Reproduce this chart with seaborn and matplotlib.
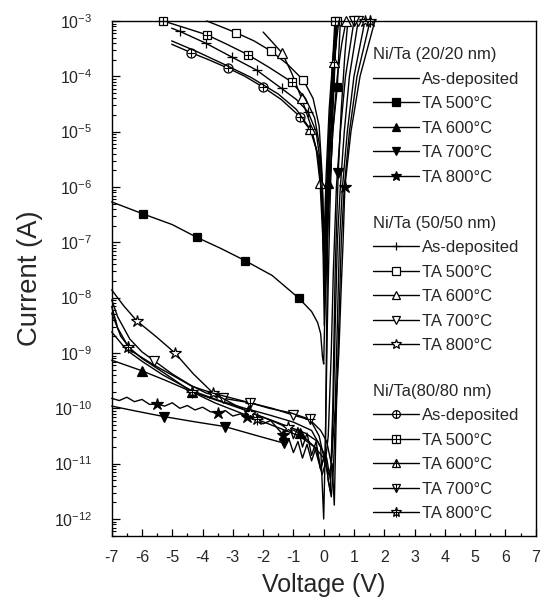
import numpy as np
import matplotlib
matplotlib.use("Agg")
import matplotlib.pyplot as plt
import seaborn as sns
from matplotlib.lines import Line2D
from matplotlib.legend_handler import HandlerTuple
from matplotlib.ticker import FixedLocator, LogLocator, MultipleLocator

# I-V data: voltage (V) and log10 of current (A)
# mk_* are the voltages where a marker symbol sits on the curve

# Ni/Ta (20/20 nm)
v_20_asdep = [-7, -6.5, -6.0, -5.3, -4.36, -3.5, -2.6, -1.8, -1.0, -0.4, -0.1, 0.0, 0.06, 0.12, 0.2, 0.28, 0.36, 0.42]
lg_20_asdep = [-8.62, -8.95, -9.15, -9.4, -9.68, -9.85, -10.0, -10.12, -10.25, -10.4, -10.7, -12.0, -10.5, -8.5, -6.5, -5.0, -3.9, -3.0]
mk_20_asdep = []

v_20_500 = [-7, -5.95, -5.0, -4.19, -3.4, -2.6, -1.7, -0.82, -0.4, -0.2, -0.1, -0.04, 0.0, 0.05, 0.15, 0.3, 0.45, 0.55]
lg_20_500 = [-6.27, -6.49, -6.68, -6.91, -7.11, -7.33, -7.6, -8.01, -8.25, -8.45, -8.65, -9.07, -9.2, -8.0, -6.5, -5.0, -4.19, -3.0]
mk_20_500 = [-5.95, -4.19, -2.6, -0.82, 0.45]

v_20_600 = [-7, -6.01, -5.2, -4.36, -3.4, -2.5, -1.6, -0.78, -0.3, -0.05, 0.05, 0.1, 0.15, 0.25, 0.35, 0.45]
lg_20_600 = [-9.13, -9.32, -9.5, -9.70, -9.88, -10.05, -10.25, -10.45, -10.7, -11.2, -11.0, -8.5, -5.92, -4.8, -3.8, -3.0]
mk_20_600 = [-6.01, -4.36, -2.5, -0.78, 0.15]

v_20_700 = [-7, -6.2, -5.27, -4.3, -3.26, -2.3, -1.31, -1.15, -1.0, -0.85, -0.7, -0.55, -0.4, -0.25, -0.1,
            0.05, 0.15, 0.22, 0.3, 0.38, 0.48, 0.58, 0.7, 0.8]
lg_20_700 = [-9.96, -10.05, -10.15, -10.24, -10.33, -10.48, -10.63, -10.55, -10.8, -10.6, -10.9, -10.65, -10.95, -10.7, -11.1,
             -10.8, -11.3, -11.5, -10.0, -7.5, -5.74, -4.6, -3.6, -3.0]
mk_20_700 = [-5.27, -3.26, -1.31, 0.48]

v_20_800 = [-7.0, -6.75, -6.5, -6.25, -6.0, -5.75, -5.51, -5.25, -5.0, -4.75, -4.5, -4.25, -4.0, -3.75, -3.48,
            -3.25, -3.0, -2.75, -2.54, -2.25, -2.0, -1.75, -1.5, -1.33, -1.15, -1.0, -0.85, -0.7, -0.55, -0.4,
            -0.25, -0.1, 0.05, 0.15, 0.25, 0.32, 0.4, 0.5, 0.58, 0.64, 0.7, 0.9, 1.2, 1.69]
lg_20_800 = [-9.82, -9.86, -9.80, -9.88, -9.84, -9.93, -9.92, -9.96, -9.90, -10.0, -9.95, -10.03, -9.98, -10.06, -10.09,
             -10.04, -10.14, -10.10, -10.16, -10.2, -10.28, -10.22, -10.38, -10.48, -10.3, -10.55, -10.35, -10.7, -10.45, -10.85,
             -10.6, -11.1, -10.8, -11.3, -11.6, -11.1, -10.0, -9.0, -7.8, -7.0, -6.0, -5.0, -4.0, -3.0]
mk_20_800 = [-5.51, -3.48, -2.54, -1.33, 0.7]

# Ni/Ta (50/50 nm)
v_50_asdep = [-5.02, -4.74, -3.9, -3.04, -2.21, -1.39, -0.9, -0.52, -0.25, -0.1, -0.02, 0.03, 0.1, 0.2, 0.3, 0.4]
lg_50_asdep = [-3.13, -3.19, -3.40, -3.65, -3.89, -4.22, -4.42, -4.64, -5.0, -5.6, -6.8, -8.0, -6.5, -5.0, -3.9, -3.0]
mk_50_asdep = [-4.74, -3.9, -3.04, -2.21, -1.39, -0.52]

v_50_500 = [-3.86, -2.9, -2.3, -1.75, -1.2, -0.67, -0.35, -0.15, -0.05, 0.01, 0.08, 0.18, 0.3, 0.43]
lg_50_500 = [-3.0, -3.21, -3.36, -3.54, -3.78, -4.07, -4.4, -4.9, -5.8, -7.0, -5.8, -4.6, -3.7, -3.0]
mk_50_500 = [-2.9, -1.75, -0.67, 0.43]

v_50_600 = [-2.0, -1.7, -1.37, -1.05, -0.73, -0.45, -0.25, -0.12, -0.04, 0.05, 0.15, 0.3, 0.45, 0.6, 0.74]
lg_50_600 = [-3.2, -3.38, -3.58, -3.95, -4.40, -4.85, -5.3, -5.92, -6.8, -7.8, -6.5, -5.0, -4.0, -3.4, -3.0]
mk_50_600 = [-1.37, -0.73, -0.12, 0.74]

v_50_700 = [-7, -6.8, -6.4, -6.0, -5.6, -5.0, -4.4, -3.9, -3.31, -2.43, -1.7, -1.02, -0.45, -0.1, 0.1, 0.25,
            0.32, 0.38, 0.45, 0.55, 0.68, 0.85, 1.14]
lg_50_700 = [-8.04, -8.35, -8.75, -8.98, -9.14, -9.38, -9.58, -9.72, -9.82, -9.9, -10.0, -10.12, -10.21, -10.4, -10.6, -11.0,
             -10.0, -8.5, -7.0, -6.0, -5.0, -4.0, -3.0]
mk_50_700 = [-5.6, -3.31, -1.02, 1.14]

v_50_800 = [-7, -6.6, -6.17, -5.5, -4.91, -4.3, -3.66, -3.0, -2.43, -1.8, -1.17, -0.6, -0.2, 0.1, 0.22, 0.3,
            0.38, 0.45, 0.52, 0.62, 0.78, 1.0, 1.36]
lg_50_800 = [-7.86, -8.15, -8.42, -8.72, -9.0, -9.38, -9.72, -9.92, -10.08, -10.2, -10.33, -10.45, -10.6, -10.9, -11.3, -10.6,
             -10.0, -8.5, -7.0, -6.0, -5.0, -4.0, -3.0]
mk_50_800 = [-6.17, -4.91, -3.66, -2.43, -1.17, 1.36]

# Ni/Ta (80/80 nm)
v_80_asdep = [-5.02, -4.39, -3.8, -3.17, -2.6, -1.99, -1.4, -0.78, -0.4, -0.15, -0.04, 0.02, 0.1, 0.2, 0.32, 0.45]
lg_80_asdep = [-3.42, -3.57, -3.7, -3.85, -4.0, -4.2, -4.42, -4.73, -5.0, -5.5, -6.5, -8.5, -7.0, -5.5, -4.2, -3.0]
mk_80_asdep = [-4.39, -3.17, -1.99, -0.78]

v_80_500 = [-5.3, -4.6, -3.86, -3.2, -2.5, -1.8, -1.06, -0.6, -0.3, -0.12, -0.03, 0.02, 0.08, 0.15, 0.25, 0.37]
lg_80_500 = [-3.0, -3.12, -3.25, -3.42, -3.61, -3.84, -4.1, -4.4, -4.75, -5.3, -6.2, -7.5, -6.5, -5.3, -4.2, -3.0]
mk_80_500 = [-5.3, -3.86, -2.5, -1.06, 0.37]

v_80_600 = [-5.02, -4.2, -3.3, -2.4, -1.5, -0.9, -0.45, -0.2, -0.06, 0.02, 0.1, 0.2, 0.34, 0.5]
lg_80_600 = [-3.36, -3.55, -3.78, -4.02, -4.32, -4.6, -4.95, -5.4, -6.2, -7.2, -6.0, -4.8, -3.74, -3.0]
mk_80_600 = [-0.45, 0.34]

v_80_700 = [-7, -6.7, -6.3, -5.6, -5.0, -4.36, -3.7, -3.0, -2.43, -1.8, -1.1, -0.45, -0.15, 0.05, 0.15, 0.25,
            0.32, 0.42, 0.55, 0.72, 1.0]
lg_80_700 = [-8.28, -8.7, -8.98, -9.22, -9.4, -9.6, -9.72, -9.82, -9.9, -10.0, -10.08, -10.2, -10.5, -11.0, -10.5, -9.0,
             -7.5, -6.0, -5.0, -4.0, -3.0]
mk_80_700 = [-2.43, -0.45, 1.0]

v_80_800 = [-7, -6.8, -6.45, -6.0, -5.3, -4.36, -3.6, -2.9, -2.2, -1.5, -0.8, -0.3, 0.0, 0.15, 0.28, 0.35,
            0.42, 0.5, 0.58, 0.68, 0.85, 1.1, 1.53]
lg_80_800 = [-8.16, -8.55, -8.89, -9.1, -9.35, -9.7, -9.9, -10.05, -10.2, -10.35, -10.5, -10.7, -10.9, -11.2, -11.0, -11.75,
             -10.0, -8.5, -7.0, -6.0, -5.0, -4.0, -3.0]
mk_80_800 = [-6.45, -4.36, -2.2, 1.53]

labels = ["As-deposited", "TA 500°C", "TA 600°C", "TA 700°C", "TA 800°C"]
headers = ["Ni/Ta (20/20 nm)", "Ni/Ta (50/50 nm)", "Ni/Ta(80/80 nm)"]

# (voltages, log currents, marker voltages, marker, filled, crossed)
groups = [
    [(v_20_asdep, lg_20_asdep, mk_20_asdep, None, True, False),
     (v_20_500, lg_20_500, mk_20_500, "s", True, False),
     (v_20_600, lg_20_600, mk_20_600, "^", True, False),
     (v_20_700, lg_20_700, mk_20_700, "v", True, False),
     (v_20_800, lg_20_800, mk_20_800, "*", True, False)],
    [(v_50_asdep, lg_50_asdep, mk_50_asdep, "+", False, False),
     (v_50_500, lg_50_500, mk_50_500, "s", False, False),
     (v_50_600, lg_50_600, mk_50_600, "^", False, False),
     (v_50_700, lg_50_700, mk_50_700, "v", False, False),
     (v_50_800, lg_50_800, mk_50_800, "*", False, False)],
    [(v_80_asdep, lg_80_asdep, mk_80_asdep, "o", False, True),
     (v_80_500, lg_80_500, mk_80_500, "s", False, True),
     (v_80_600, lg_80_600, mk_80_600, "^", False, True),
     (v_80_700, lg_80_700, mk_80_700, "v", False, True),
     (v_80_800, lg_80_800, mk_80_800, "*", False, True)],
]

MS = {"s": 6.3, "^": 7.2, "v": 7.2, "*": 9.0, "+": 7.5, "o": 6.5, None: 0}

sns.set_theme(style="ticks")
plt.rcParams["font.family"] = ["Liberation Sans", "DejaVu Sans"]
plt.rcParams["mathtext.fontset"] = "custom"
plt.rcParams["mathtext.rm"] = "Liberation Sans"
plt.rcParams["mathtext.it"] = "Liberation Sans:italic"
plt.rcParams["mathtext.bf"] = "Liberation Sans:bold"
plt.rcParams["axes.unicode_minus"] = False

fig = plt.figure(figsize=(5.47, 6.01), dpi=100)
ax = fig.add_axes([0.2042, 0.1082, 0.7751, 0.8569])
ax.set_yscale("log")

for grp in groups:
    for v, lg, mk, marker, filled, crossed in grp:
        v = np.asarray(v, dtype=float)
        cur = np.power(10.0, lg)
        idx = [int(np.argmin(np.abs(v - m))) for m in mk]
        kw = dict(color="black", lw=1.0, clip_on=False)
        if marker:
            kw.update(marker=marker, markevery=idx, ms=MS[marker], mec="black",
                      mfc="black" if filled else "white", mew=0.9)
        sns.lineplot(x=v, y=cur, ax=ax, sort=False, estimator=None, **kw)
        if crossed:
            ax.plot(v[idx], cur[idx], ls="none", marker="+", ms=MS[marker] * 0.95,
                    mec="black", mew=0.8, clip_on=False, zorder=3)

ax.set_xlim(-7, 7)
ax.set_ylim(4.93e-13, 1e-3)
ax.xaxis.set_major_locator(MultipleLocator(1))
ax.xaxis.set_minor_locator(MultipleLocator(0.5))
ax.yaxis.set_major_locator(FixedLocator([10.0 ** k for k in range(-12, -2)]))
ax.yaxis.set_minor_locator(LogLocator(base=10, subs=np.arange(2, 10), numticks=30))

ax.tick_params(which="both", direction="in", top=False, right=False, color="black")
ax.tick_params(axis="x", which="major", length=5, width=0.9, pad=10, labelsize=11.5)
ax.tick_params(axis="x", which="minor", length=2.5, width=0.9)
ax.tick_params(axis="y", which="major", length=6, width=0.9, pad=14, labelsize=11.5)
ax.tick_params(axis="y", which="minor", length=3, width=0.8)
for s in ax.spines.values():
    s.set_color("black")
    s.set_linewidth(1.0)

ax.set_xlabel("Voltage (V)", fontsize=18, labelpad=6)
ax.set_ylabel("Current (A)", fontsize=19.8, labelpad=8)

# three grouped legends on the right
anchors = [0.949, 0.622, 0.296]
for grp, header, y0 in zip(groups, headers, anchors):
    handles = []
    for v, lg, mk, marker, filled, crossed in grp:
        ms = MS[marker] * 0.85
        h = Line2D([], [], color="black", lw=1.0, marker=marker if marker else None, ms=ms,
                   mec="black", mfc="black" if filled else "white", mew=0.9)
        if crossed:
            h = (h, Line2D([], [], ls="none", marker="+", ms=ms * 0.95, mec="black", mew=0.8))
        handles.append(h)
    leg = ax.legend(handles, labels, title=header, loc="upper left", bbox_to_anchor=(0.617, y0),
                    frameon=False, fontsize=12, title_fontsize=12, alignment="left",
                    handlelength=2.75, handletextpad=0.2, labelspacing=0.57,
                    borderpad=0, borderaxespad=0,
                    handler_map={tuple: HandlerTuple(ndivide=1)})
    ax.add_artist(leg)
ax.legend_ = None

fig.savefig("out.png", dpi=100)
